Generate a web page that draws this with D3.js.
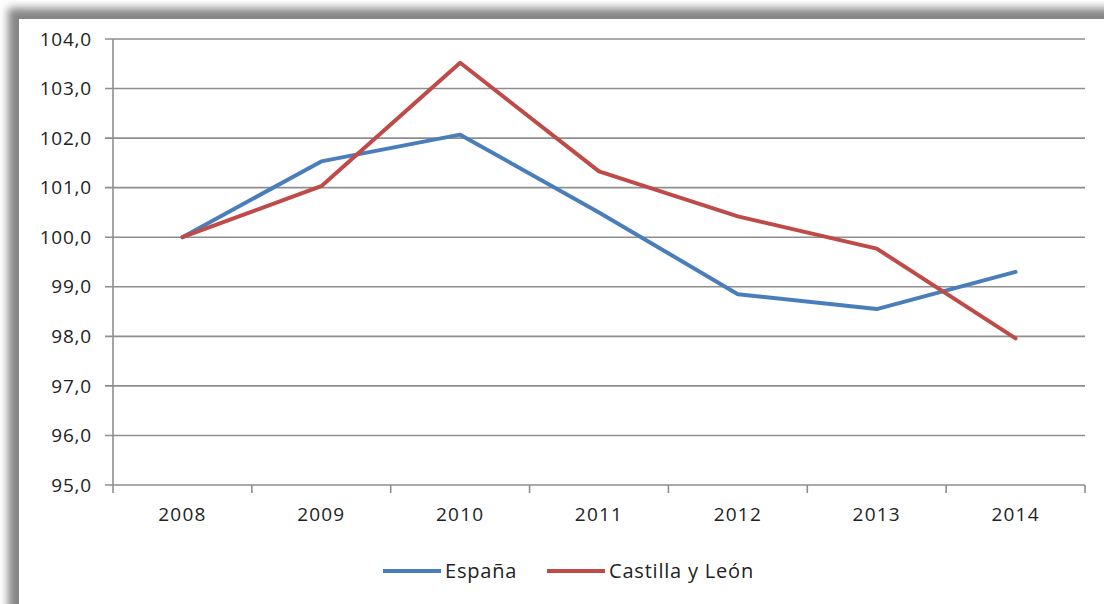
<!DOCTYPE html>
<html><head><meta charset="utf-8">
<script src="https://cdn.jsdelivr.net/npm/d3@7"></script>
<style>
html,body{margin:0;padding:0;background:#fff;}
svg{display:block;}
text{font-family:"Open Sans",sans-serif;fill:#222;}
</style></head>
<body><svg id="c" width="1104" height="604"></svg>
<script>
const years = ["2008","2009","2010","2011","2012","2013","2014"];
const espana = [100.0, 101.53, 102.07, 100.5, 98.85, 98.55, 99.3];
const castilla = [100.0, 101.03, 103.52, 101.33, 100.42, 99.77, 97.96];
const seriesNames = ["España", "Castilla y León"];
const seriesColors = ["#4A7EBB", "#BE4B48"];
const yTicks = [95,96,97,98,99,100,101,102,103,104];

const svg = d3.select("#c");
const defs = svg.append("defs");
const f = defs.append("filter").attr("id","sh").attr("x","-10%").attr("y","-10%").attr("width","120%").attr("height","120%");
f.append("feGaussianBlur").attr("stdDeviation",4);

// frame with shadow
svg.append("rect").attr("x",8).attr("y",8).attr("width",1200).attr("height",700).attr("fill","#858585").attr("filter","url(#sh)");
svg.append("rect").attr("x",19).attr("y",19).attr("width",1200).attr("height",700).attr("fill","#fff");

const x0 = 113, x1 = 1085, yTop = 39, yBot = 485;
const x = d3.scaleBand().domain(years).range([x0, x1]);
const y = d3.scaleLinear().domain([95,104]).range([yBot, yTop]);

const g = svg.append("g");
g.selectAll(".grid").data(yTicks).join("line")
  .attr("x1", x0-8).attr("x2", x1)
  .attr("y1", d=>y(d)).attr("y2", d=>y(d))
  .attr("stroke","#8e8e8e").attr("stroke-width",1.6);
g.append("line").attr("x1",x0).attr("x2",x0).attr("y1",yTop).attr("y2",yBot+8)
  .attr("stroke","#8e8e8e").attr("stroke-width",1.6);
g.selectAll(".xt").data(years).join("line")
  .attr("x1",(d,i)=> x0 + (i+1)*x.step()).attr("x2",(d,i)=> x0 + (i+1)*x.step())
  .attr("y1",yBot).attr("y2",yBot+8)
  .attr("stroke","#8e8e8e").attr("stroke-width",1.6);

g.selectAll(".yl").data(yTicks).join("text")
  .attr("x",92).attr("y",d=>y(d)).attr("dy","0.35em")
  .attr("text-anchor","end").attr("font-size",19).attr("letter-spacing","0.8px")
  .text(d=>d3.format(".1f")(d).replace(".",","));
g.selectAll(".xl").data(years).join("text")
  .attr("x",d=>x(d)+x.bandwidth()/2).attr("y",514).attr("dy","0.35em")
  .attr("text-anchor","middle").attr("font-size",19).attr("letter-spacing","1.2px")
  .text(d=>d);

const line = d3.line().x((d,i)=>x(years[i])+x.bandwidth()/2).y(d=>y(d));
[espana, castilla].forEach((s,i)=>{
  g.append("path").datum(s).attr("d",line).attr("fill","none")
    .attr("stroke",seriesColors[i]).attr("stroke-width",4).attr("stroke-linejoin","round").attr("stroke-linecap","round");
});

const leg = [{x:383},{x:547}];
seriesNames.forEach((n,i)=>{
  const lx = leg[i].x;
  svg.append("line").attr("x1",lx).attr("x2",lx+58).attr("y1",571).attr("y2",571)
    .attr("stroke",seriesColors[i]).attr("stroke-width",4);
  svg.append("text").attr("x",lx+62).attr("y",571).attr("dy","0.35em")
    .attr("font-size",20).attr("letter-spacing","0.8px").text(n);
});
</script></body></html>
